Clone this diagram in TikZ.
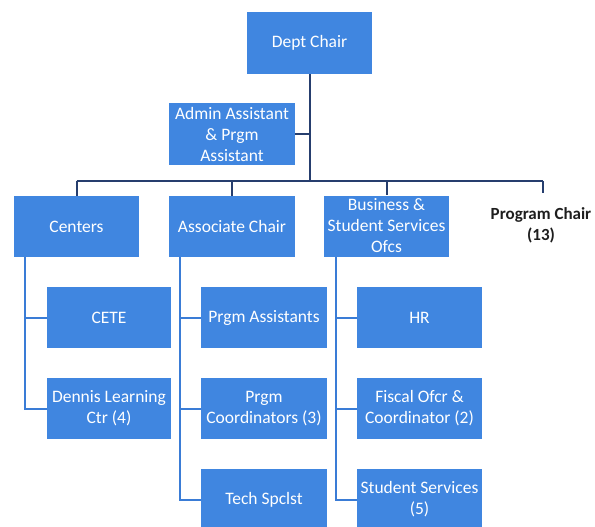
\documentclass[tikz,border=0pt]{standalone}
\usepackage{fontspec}
\setmainfont{Carlito}
\definecolor{boxblue}{RGB}{64,134,224}
\definecolor{navy}{RGB}{38,62,110}
\definecolor{lineblue}{RGB}{58,124,214}
\definecolor{darktext}{RGB}{30,30,30}
\begin{document}
\begin{tikzpicture}[x=1pt,y=-1pt,
  orgbox/.style={fill=boxblue,text=white,draw=none,inner sep=0pt,
    minimum width=125pt,minimum height=61pt,align=center,
    font=\fontsize{17.5}{21}\selectfont},
  topline/.style={draw=navy,line width=2pt},
  childline/.style={draw=lineblue,line width=2pt}]
\useasboundingbox (0,0) rectangle (595,527);
\fill[white] (0,0) rectangle (595,527);

\node[orgbox,minimum height=62pt] (dept) at (309.5,43) {Dept Chair};
\node[orgbox,minimum width=126pt,minimum height=62pt] (admin) at (232,134) {Admin Assistant\\\& Prgm\\Assistant};

\node[orgbox] (centers) at (76.5,226.5) {Centers};
\node[orgbox,minimum width=126pt] (assoc) at (232,226.5) {Associate Chair};
\node[orgbox] (bus) at (386.5,226) {Business \&\\Student Services\\Ofcs};
\node[text=darktext,font=\fontsize{17}{21}\selectfont\bfseries,align=center,inner sep=0pt] (prog) at (541,225) {Program Chair\\(13)};

\node[orgbox,minimum width=124pt] (cete) at (109,317.5) {CETE};
\node[orgbox,minimum width=124pt] (dennis) at (109,408.5) {Dennis Learning\\Ctr (4)};

\node[orgbox,minimum width=126pt] (pa) at (264,317.5) {Prgm Assistants};
\node[orgbox,minimum width=126pt] (pc) at (264,408.5) {Prgm\\Coordinators (3)};
\node[orgbox,minimum width=126pt] (tech) at (264,499.5) {Tech Spclst};

\node[orgbox] (hr) at (419.5,317.5) {HR};
\node[orgbox] (fiscal) at (419.5,408.5) {Fiscal Ofcr \&\\Coordinator (2)};
\node[orgbox] (ss) at (419.5,499.5) {Student Services\\(5)};

% top level connectors
\coordinate (barmid) at (309.5,181);
\coordinate (barL) at (76.5,181);
\coordinate (barR) at (543,181);
\coordinate (progtop) at (543,193);
\draw[topline] (dept.south) -- (barmid);
\draw[topline] (barL) -- (barR);
\draw[topline] (admin.east) -- (admin.east -| dept.south);
\draw[topline] (barL) -- (centers.north);
\draw[topline] (assoc.north |- barL) -- (assoc.north);
\draw[topline] (bus.north |- barL) -- (bus.north);
\draw[topline] (barR) -- (progtop);

% children
\coordinate (cl) at (25,257);
\draw[childline] (cl) |- (dennis.west);
\draw[childline] (cl |- cete.west) -- (cete.west);

\coordinate (al) at (180,257);
\draw[childline] (al) |- (tech.west);
\draw[childline] (al |- pa.west) -- (pa.west);
\draw[childline] (al |- pc.west) -- (pc.west);

\coordinate (bl) at (336,257);
\draw[childline] (bl) |- (ss.west);
\draw[childline] (bl |- hr.west) -- (hr.west);
\draw[childline] (bl |- fiscal.west) -- (fiscal.west);
\end{tikzpicture}
\end{document}
